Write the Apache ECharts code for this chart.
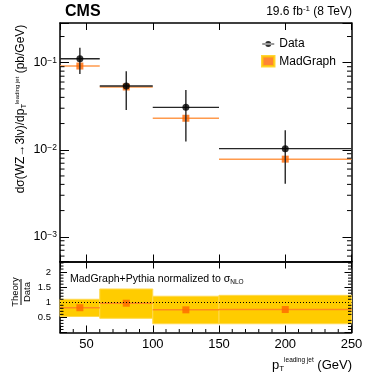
<!DOCTYPE html>
<html>
<head>
<meta charset="utf-8">
<script src="https://cdn.jsdelivr.net/npm/echarts@6/dist/echarts.min.js"></script>
<style>
html, body { margin: 0; padding: 0; background: #fff; }
#main { width: 374px; height: 392px; }
</style>
</head>
<body>
<div id="main"></div>
<script>
// bins of leading jet pT (GeV)
const binLo = [30, 60, 100, 150];
const binHi = [60, 100, 150, 250];
const binCenter = [45, 80, 125, 200];

// measured dsigma/dpT (pb/GeV) with total error band
const dataVal = [0.111, 0.054, 0.0307, 0.0103];
const dataLow = [0.074, 0.0286, 0.01245, 0.00407];
const dataHigh = [0.149, 0.080, 0.0485, 0.0167];

// MadGraph prediction (pb/GeV)
const mgVal = [0.0916, 0.0526, 0.023, 0.0078];

// theory / data ratio and its uncertainty band
const ratioVal = [0.82, 0.97, 0.75, 0.76];
const ratioLow = [0.53, 0.47, 0.29, 0.29];
const ratioHigh = [1.10, 1.44, 1.20, 1.23];

// tick labels
const xTickLabels = [50, 100, 150, 200, 250];
const logTickLabels = [-1, -2, -3];   // exponents of 10
const ratioTickLabels = [0.5, 1, 1.5, 2];

const X_MIN = 30, X_MAX = 250;
const Y_MIN = 5.2e-4, Y_MAX = 0.286;
const R_MIN = 0, R_MAX = 2.35;
const FONT = 'Liberation Sans, Arial, Helvetica, sans-serif';

// minor tick positions
let logMinor = [];
for (let e = -4; e <= -1; e++) {
    for (let m = 2; m <= 9; m++) {
        let v = m * Math.pow(10, e);
        if (v > Y_MIN && v < Y_MAX) logMinor.push(v);
    }
}
let xMinor = [];
for (let v = 40; v < X_MAX; v += 10) {
    if (v % 50 !== 0) xMinor.push(v);
}
let ratioMinor = [];
for (let i = 1; i < 24; i++) {
    if (i % 5 !== 0) ratioMinor.push(i / 10);
}

let myChart = echarts.init(document.getElementById('main'));

function xAxisCfg(grid, pos, showLabel) {
    return {
        type: 'value', gridIndex: grid, position: pos,
        min: X_MIN, max: X_MAX,
        axisLine: { show: true, onZero: false, lineStyle: { color: '#000', width: 1.5 } },
        axisTick: { show: true, inside: true, length: 7, lineStyle: { color: '#000', width: 1 } },
        axisLabel: {
            show: showLabel, color: '#000', fontSize: 13, fontFamily: FONT, margin: 5,
            formatter: function (v) { return xTickLabels.indexOf(v) >= 0 ? String(v) : ''; }
        },
        splitLine: { show: false }
    };
}

function logAxisCfg(pos, showLabel) {
    return {
        type: 'log', gridIndex: 0, position: pos, logBase: 10,
        min: Y_MIN, max: Y_MAX,
        axisLine: { show: true, lineStyle: { color: '#000', width: 1.5 } },
        axisTick: { show: true, inside: true, length: 9, lineStyle: { color: '#000', width: 1 } },
        axisLabel: {
            show: showLabel, color: '#000', fontFamily: FONT, margin: 3,
            formatter: function (v) {
                let e = Math.round(Math.log10(v));
                if (Math.abs(Math.log10(v) - e) > 1e-6 || logTickLabels.indexOf(e) < 0) return '';
                return '{b|10}{s|\u2212' + Math.abs(e) + '}';
            },
            rich: {
                b: { fontSize: 12.5, fontFamily: FONT, color: '#000', verticalAlign: 'bottom', lineHeight: 13 },
                s: { fontSize: 8.5, fontFamily: FONT, color: '#000', verticalAlign: 'top', lineHeight: 9, padding: [0, 0, 8, 0] }
            }
        },
        splitLine: { show: false }
    };
}

function ratioAxisCfg(pos, showLabel) {
    return {
        type: 'value', gridIndex: 1, position: pos,
        min: R_MIN, max: R_MAX, interval: 0.5,
        axisLine: { show: true, onZero: false, lineStyle: { color: '#000', width: 1.5 } },
        axisTick: { show: true, inside: true, length: 7, lineStyle: { color: '#000', width: 1 } },
        axisLabel: {
            show: showLabel, color: '#000', fontSize: 9.5, fontFamily: FONT, margin: 9,
            formatter: function (v) { return ratioTickLabels.indexOf(v) >= 0 ? String(v) : ''; }
        },
        splitLine: { show: false }
    };
}

// minor ticks drawn through the axis scales; sides: 'both' or 'start' (left / bottom)
function tickSeries(xi, yi, dir, values, yRef, len, sides) {
    return {
        type: 'custom', xAxisIndex: xi, yAxisIndex: yi, silent: true, z: 10,
        data: values.map(v => dir === 'y' ? [X_MIN, v] : [v, yRef]),
        renderItem: function (params, api) {
            let cs = params.coordSys;
            let p = api.coord([api.value(0), api.value(1)]);
            let st = { stroke: '#000', lineWidth: 1 };
            let children = [];
            if (dir === 'y') {
                children.push({ type: 'line', shape: { x1: cs.x, y1: p[1], x2: cs.x + len, y2: p[1] }, style: st });
                if (sides === 'both') {
                    children.push({ type: 'line', shape: { x1: cs.x + cs.width - len, y1: p[1], x2: cs.x + cs.width, y2: p[1] }, style: st });
                }
            } else {
                children.push({ type: 'line', shape: { x1: p[0], y1: cs.y + cs.height - len, x2: p[0], y2: cs.y + cs.height }, style: st });
                if (sides === 'both') {
                    children.push({ type: 'line', shape: { x1: p[0], y1: cs.y, x2: p[0], y2: cs.y + len }, style: st });
                }
            }
            return { type: 'group', children: children };
        }
    };
}

// horizontal bin-width line plus optional vertical error bar
function binLineItem(color, width) {
    return function (params, api) {
        let a = api.coord([api.value(0), api.value(2)]);
        let b = api.coord([api.value(1), api.value(2)]);
        let children = [
            { type: 'line', shape: { x1: a[0], y1: a[1], x2: b[0], y2: b[1] }, style: { stroke: color, lineWidth: width } }
        ];
        if (!isNaN(api.value(4))) {
            let lo = api.coord([api.value(3), api.value(4)]);
            let hi = api.coord([api.value(3), api.value(5)]);
            children.push({ type: 'line', shape: { x1: lo[0], y1: lo[1], x2: hi[0], y2: hi[1] }, style: { stroke: color, lineWidth: width } });
        }
        return { type: 'group', children: children };
    };
}

let dataBars = binLo.map((lo, i) => [lo, binHi[i], dataVal[i], binCenter[i], dataLow[i], dataHigh[i]]);
let mgBars = binLo.map((lo, i) => [lo, binHi[i], mgVal[i], binCenter[i], NaN, NaN]);
let ratioBars = binLo.map((lo, i) => [lo, binHi[i], ratioVal[i], binCenter[i], NaN, NaN]);
let ratioBand = binLo.map((lo, i) => [lo, binHi[i], ratioLow[i], ratioHigh[i]]);

const DATA_ICON = 'path://M0,0h0.01v0.01h-0.01z M0,4.4h12v1.2h-12z M6,2A3,3,0,1,0,6.01,2Z M11.99,9.99h0.01v0.01h-0.01z';

let option = {
    animation: false,
    backgroundColor: '#fff',
    textStyle: { fontFamily: FONT },
    grid: [
        { left: 60, right: 22.5, top: 23, height: 238.5 },
        { left: 60, right: 22.5, top: 261.5, height: 71 }
    ],
    xAxis: [
        xAxisCfg(0, 'bottom', false),
        xAxisCfg(0, 'top', false),
        xAxisCfg(1, 'bottom', true),
        xAxisCfg(1, 'top', false)
    ],
    yAxis: [
        logAxisCfg('left', true),
        logAxisCfg('right', false),
        ratioAxisCfg('left', true),
        ratioAxisCfg('right', false)
    ],
    legend: {
        orient: 'vertical', left: 256, top: 33,
        itemWidth: 12, itemHeight: 10, itemGap: 5,
        selectedMode: false,
        textStyle: { fontSize: 12, color: '#000', fontFamily: FONT },
        data: [
            { name: 'Data', icon: DATA_ICON, itemStyle: { color: '#000' } },
            { name: 'MadGraph', icon: 'rect', itemStyle: { color: '#FF6600', borderColor: '#FFCC00', borderWidth: 2.5 } }
        ]
    },
    graphic: [
        { type: 'text', left: 65, top: 4, style: { text: 'CMS', font: 'bold 16px ' + FONT, fill: '#000' } },
        {
            type: 'text', right: 22, top: 5,
            style: {
                text: '19.6 fb{s|-1} (8 TeV)', font: '12px ' + FONT, fill: '#000',
                rich: {
                    s: { fontSize: 8, fontFamily: FONT, fill: '#000', verticalAlign: 'top', padding: [0, 0, 6, 0] }
                }
            }
        },
        {
            type: 'text', x: 21, y: 109, rotation: Math.PI / 2,
            style: {
                text: 'd\u03c3(WZ\u21923l\u03bd)/dp{t|T}{u|leading jet} (pb/GeV)',
                font: '12px ' + FONT, fill: '#000', align: 'center', verticalAlign: 'middle',
                rich: {
                    t: { fontSize: 7.5, fontFamily: FONT, fill: '#000', verticalAlign: 'bottom', padding: [6, 0, 0, 0] },
                    u: { fontSize: 6, fontFamily: FONT, fill: '#000', verticalAlign: 'top', padding: [0, 0, 8, 0] }
                }
            }
        },
        {
            type: 'group', x: 21, y: 292, rotation: Math.PI / 2,
            children: [
                { type: 'text', x: 0, y: -6, style: { text: 'Theory', font: '9.5px ' + FONT, fill: '#000', align: 'center', verticalAlign: 'middle' } },
                { type: 'line', shape: { x1: -13, y1: 0, x2: 13, y2: 0 }, style: { stroke: '#000', lineWidth: 1 } },
                { type: 'text', x: 0, y: 6, style: { text: 'Data', font: '9.5px ' + FONT, fill: '#000', align: 'center', verticalAlign: 'middle' } }
            ]
        },
        {
            type: 'text', left: 70, top: 274,
            style: {
                text: 'MadGraph+Pythia normalized to \u03c3{n|NLO}', font: '10.5px ' + FONT, fill: '#000',
                rich: {
                    n: { fontSize: 6.5, fontFamily: FONT, fill: '#000', verticalAlign: 'bottom', padding: [5, 0, 0, 0] }
                }
            }
        },
        {
            type: 'text', right: 22, top: 357,
            style: {
                text: 'p{t|T}{u|leading jet} (GeV)', font: '13px ' + FONT, fill: '#000',
                rich: {
                    t: { fontSize: 8, fontFamily: FONT, fill: '#000', verticalAlign: 'bottom', padding: [7, 0, 0, 0] },
                    u: { fontSize: 6.5, fontFamily: FONT, fill: '#000', verticalAlign: 'top', padding: [0, 0, 9, 0] }
                }
            }
        }
    ],
    series: [
        // ratio panel
        {
            type: 'custom', name: 'band', xAxisIndex: 2, yAxisIndex: 2, silent: true, z: 2,
            encode: { x: [0, 1], y: [2, 3] },
            data: ratioBand,
            renderItem: function (params, api) {
                let a = api.coord([api.value(0), api.value(3)]);
                let b = api.coord([api.value(1), api.value(2)]);
                return {
                    type: 'rect',
                    shape: { x: a[0], y: a[1], width: b[0] - a[0], height: b[1] - a[1] },
                    style: { fill: '#FFCC00', stroke: '#FFD94D', lineWidth: 1 }
                };
            }
        },
        {
            type: 'custom', name: 'ratioLine', xAxisIndex: 2, yAxisIndex: 2, silent: true, z: 3,
            encode: { x: [0, 1], y: 2 },
            data: ratioBars,
            renderItem: binLineItem('#FF8A1F', 1.5)
        },
        {
            type: 'scatter', name: 'ratio', xAxisIndex: 2, yAxisIndex: 2, silent: true, z: 4,
            symbol: 'rect', symbolSize: 7,
            itemStyle: { color: '#FF6600' },
            data: binCenter.map((x, i) => [x, ratioVal[i]]),
            markLine: {
                silent: true, symbol: 'none', label: { show: false },
                lineStyle: { color: '#000', type: [1, 2], width: 1 },
                data: [{ yAxis: 1 }]
            }
        },
        // upper panel
        {
            type: 'custom', name: 'mgLine', xAxisIndex: 0, yAxisIndex: 0, silent: true, z: 3,
            encode: { x: [0, 1], y: 2 },
            data: mgBars,
            renderItem: binLineItem('#FF9A4D', 1.5)
        },
        {
            type: 'scatter', name: 'MadGraph', xAxisIndex: 0, yAxisIndex: 0, silent: true, z: 4,
            symbol: 'rect', symbolSize: 7,
            itemStyle: { color: '#FF6600' },
            data: binCenter.map((x, i) => [x, mgVal[i]])
        },
        {
            type: 'custom', name: 'dataLine', xAxisIndex: 0, yAxisIndex: 0, silent: true, z: 5,
            encode: { x: [0, 1, 3], y: [2, 4, 5] },
            data: dataBars,
            renderItem: binLineItem('#262626', 1.4)
        },
        {
            type: 'scatter', name: 'Data', xAxisIndex: 0, yAxisIndex: 0, silent: true, z: 6,
            symbol: 'circle', symbolSize: 7,
            itemStyle: { color: '#000' },
            data: binCenter.map((x, i) => [x, dataVal[i]])
        },
        // minor ticks
        tickSeries(0, 0, 'y', logMinor, 0, 4.5, 'both'),
        tickSeries(2, 2, 'y', ratioMinor, 0, 3.5, 'both'),
        tickSeries(2, 2, 'x', xMinor, R_MAX, 3.5, 'start')
    ]
};

myChart.setOption(option);
</script>
</body>
</html>
